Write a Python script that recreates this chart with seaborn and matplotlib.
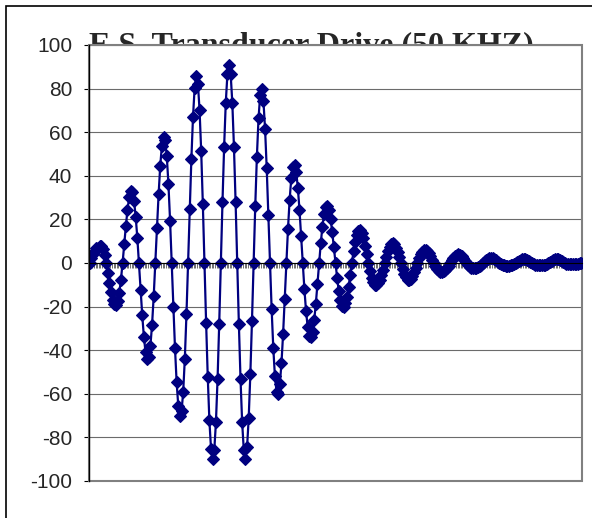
import numpy as np
import seaborn as sns
import matplotlib.pyplot as plt
from matplotlib.patches import Rectangle

# drive signal, 10 samples per half cycle
build_up = [
    0, 2.2, 4.1, 5.7, 6.7, 7, 7.8, 7.6, 6.2, 3.6,
    0, -4.4, -9.1, -13.4, -16.9, -19, -19.4, -17.6, -13.6, -7.6,
    0, 8.5, 16.9, 24.4, 30.1, 33, 32.4, 28.5, 21.3, 11.6,
    0, -12.2, -23.9, -33.8, -40.8, -44, -43.2, -37.9, -28.3, -15.3,
    0, 16.2, 31.6, 44.7, 53.8, 58, 56.3, 48.9, 36.2, 19.4,
    0, -20.1, -39, -54.7, -65.4, -70, -68.1, -59.2, -44, -23.6,
    0, 24.6, 47.7, 67, 80.3, 86, 82.2, 70.2, 51.3, 27.1,
    0, -27.3, -52.2, -72.2, -85.2, -90, -85.7, -73, -53.1, -27.9,
    0, 28, 53.3, 73.5, 86.5, 91, 86.5, 73.5, 53.3, 28,
    0, -27.9, -53.1, -73, -85.7, -90, -84.6, -71.2, -51.1, -26.6,
]
ring_down = [
    0, 26, 48.8, 66.3, 77, 80, 74.2, 61.5, 43.5, 22.2,
    0, -21, -38.8, -51.8, -59, -60, -55.6, -46.1, -32.6, -16.7,
    0, 15.8, 29.1, 38.8, 44.2, 45, 41.8, 34.6, 24.5, 12.5,
    0, -11.9, -21.9, -29.3, -33.4, -34, -31.6, -26.2, -18.6, -9.5,
    0, 9, 16.7, 22.3, 25.5, 26, 24.2, 20.1, 14.2, 7.3,
    0, -6.9, -12.8, -17.2, -19.6, -20, -18.5, -15.4, -10.9, -5.6,
    0, 5.3, 9.7, 12.9, 14.7, 15, 13.8, 11.3, 7.9, 4,
    0, -3.7, -6.8, -8.9, -10, -10, -9.4, -7.9, -5.7, -3,
    0, 2.9, 5.5, 7.4, 8.7, 9, 8.5, 7.1, 5.1, 2.7,
    0, -2.6, -4.9, -6.6, -7.7, -8, -7.4, -6.1, -4.3, -2.2,
    0, 2.1, 3.9, 5.2, 5.9, 6, 5.5, 4.5, 3.2, 1.6,
    0, -1.5, -2.7, -3.6, -4, -4, -3.8, -3.2, -2.4, -1.2,
    0, 1.2, 2.4, 3.2, 3.8, 4, 3.7, 3, 2.1, 1.1,
    0, -1, -1.7, -2.3, -2.5, -2.5, -2.4, -2, -1.4, -0.7,
    0, 0.7, 1.4, 1.9, 2.2, 2.3, 2.1, 1.7, 1.2, 0.6,
    0, -0.5, -0.9, -1.1, -1.2, -1.2, -1.2, -1.1, -0.8, -0.5,
    0, 0.5, 1, 1.5, 1.8, 2, 1.8, 1.4, 1, 0.5,
    0, -0.4, -0.7, -0.8, -0.9, -0.8, -0.9, -0.8, -0.7, -0.4,
    0, 0.5, 1, 1.4, 1.8, 2, 1.8, 1.4, 0.9, 0.4,
    0, -0.3, -0.6, -0.6, -0.6, -0.5, -0.5, -0.4, -0.3, -0.2,
    0,
]
drive = build_up + ring_down
sample = np.arange(len(drive))
y_ticks = [-100, -80, -60, -40, -20, 0, 20, 40, 60, 80, 100]
title = 'E.S. Transducer Drive (50 KHZ)'

sns.set_style("white")
plt.rcParams['font.family'] = ['Liberation Sans', 'DejaVu Sans']
plt.rcParams['axes.unicode_minus'] = False

fig = plt.figure(figsize=(5.92, 5.18), dpi=100)
ax = fig.add_axes([89 / 592, 37 / 518, 493 / 592, 436 / 518])
ax.set_facecolor('white')

# horizontal gridlines
for y in y_ticks[1:]:
    ax.axhline(y, color='#6b6b6b', lw=0.8, zorder=0.5)

sns.lineplot(x=sample, y=drive, ax=ax, color='#000080', marker='D', markersize=6.3,
             markeredgewidth=0.8, markeredgecolor='#000080', linewidth=1.6, sort=False)

ax.set_xlim(-0.5, len(drive) - 0.5)
ax.set_ylim(-100, 100)
ax.set_yticks(y_ticks)
ax.set_yticklabels([str(v) for v in y_ticks])
ax.set_xticks(np.arange(-0.5, len(drive), 1))
ax.set_xticklabels([])
ax.tick_params(axis='y', left=True, length=3.6, width=0.8, direction='out', pad=8.6,
               labelsize=15, color='black')
ax.tick_params(axis='x', bottom=True, length=3.6, width=0.4, direction='out', color='black')

# category axis crosses at zero
ax.spines['bottom'].set_position(('data', 0))
ax.spines['bottom'].set_color('black')
ax.spines['bottom'].set_linewidth(0.8)
ax.spines['left'].set_color('black')
ax.spines['left'].set_linewidth(1.0)
ax.spines['top'].set_visible(False)
ax.spines['right'].set_visible(False)
ax.add_patch(Rectangle((0, 0), 1, 1, transform=ax.transAxes, fill=False,
                       ec='#808080', lw=1.5, zorder=0.6, clip_on=False))
ax.set_xlabel('')
ax.set_ylabel('')

# title sits behind the plot area, like in the original
fig.text(311 / 592, 1 - 53 / 518, title, ha='center', va='baseline',
         fontfamily='Liberation Serif', fontweight='bold', fontsize=23, zorder=-1)
fig.add_artist(Rectangle((5.5 / 592, -1), 5, 2 - 5.5 / 518, transform=fig.transFigure,
                         fill=False, ec='black', lw=1.2))

fig.savefig('out.png', dpi=100)
